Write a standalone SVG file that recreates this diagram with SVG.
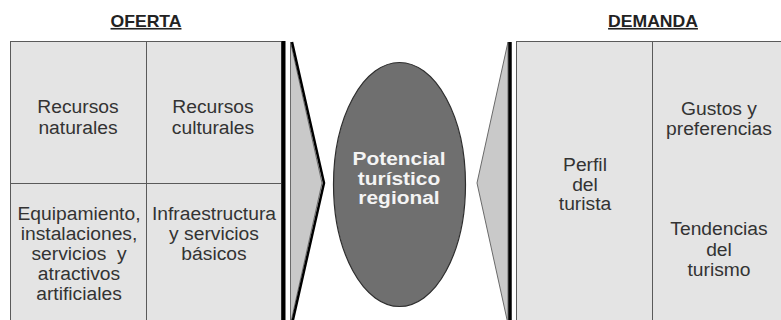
<svg xmlns="http://www.w3.org/2000/svg" width="781" height="320" viewBox="0 0 781 320">
<style>
.bg{fill:#ffffff}
.box{fill:#e4e4e4;stroke:#5a5a5a;stroke-width:1}
.div{stroke:#5a5a5a;stroke-width:1;fill:none}
.shadow{stroke:#000;fill:none}
.chev{fill:#c9c9c9;stroke:#6a6a6a;stroke-width:1}
.t{font-family:"Liberation Sans",Arial,sans-serif;font-size:18px;fill:#333;text-anchor:middle}
.title{font-family:"Liberation Sans",Arial,sans-serif;font-size:16px;font-weight:bold;fill:#222;text-anchor:middle;text-decoration:underline}
.w{font-family:"Liberation Sans",Arial,sans-serif;font-size:19px;font-weight:bold;fill:#f4f4f4;text-anchor:middle}
</style>
<rect class="bg" x="0" y="0" width="781" height="320"/>

<g id="titulo-oferta" transform="translate(146,0) scale(1.1,1)">
  <text class="title" x="0" y="27">OFERTA</text>
</g>
<g id="titulo-demanda" transform="translate(653,0) scale(1.1,1)">
  <text class="title" x="0" y="27">DEMANDA</text>
</g>

<g id="oferta-marco">
  <rect class="box" x="10.5" y="41.5" width="271" height="290"/>
  <line class="div" x1="146.5" y1="41.5" x2="146.5" y2="320"/>
  <line class="div" x1="10.5" y1="183.5" x2="281.5" y2="183.5"/>
  <line class="shadow" x1="283.5" y1="41" x2="283.5" y2="320" stroke-width="4"/>
</g>

<g id="recursos-naturales" transform="translate(78,0) scale(1.07,1)">
  <text class="t" x="0" y="113">Recursos</text>
  <text class="t" x="0" y="134">naturales</text>
</g>
<g id="recursos-culturales" transform="translate(213,0) scale(1.07,1)">
  <text class="t" x="0" y="113">Recursos</text>
  <text class="t" x="0" y="134">culturales</text>
</g>
<g id="equipamiento" transform="translate(79,0) scale(1.07,1)">
  <text class="t" x="0" y="220">Equipamiento,</text>
  <text class="t" x="0" y="240">instalaciones,</text>
  <text class="t" x="0" y="260" xml:space="preserve">servicios  y</text>
  <text class="t" x="0" y="280">atractivos</text>
  <text class="t" x="0" y="300">artificiales</text>
</g>
<g id="infraestructura" transform="translate(214,0) scale(1.07,1)">
  <text class="t" x="0" y="220">Infraestructura</text>
  <text class="t" x="0" y="240">y servicios</text>
  <text class="t" x="0" y="260">básicos</text>
</g>

<g id="connectors">
  <g id="flecha-oferta">
    <polygon class="chev" points="290.5,42 322,183 290.5,324"/>
    <polyline class="shadow" points="292,42 324,183 292,324" stroke-width="2.5" stroke-linejoin="miter"/>
  </g>
  <g id="flecha-demanda">
    <polygon class="chev" points="508,42 477,183 508,324"/>
    <line class="shadow" x1="510" y1="42" x2="510" y2="320" stroke-width="3.5"/>
  </g>
</g>

<g id="potencial">
  <ellipse cx="399.5" cy="184.5" rx="66" ry="122" fill="#6f6f6f" stroke="#2e2e2e" stroke-width="1.2"/>
  <g transform="translate(399,0) scale(1.1,1)">
    <text class="w" x="0" y="165">Potencial</text>
    <text class="w" x="0" y="185">turístico</text>
    <text class="w" x="0" y="204">regional</text>
  </g>
</g>

<g id="demanda-marco">
  <rect class="box" x="516.5" y="41.5" width="280" height="290"/>
  <line class="div" x1="652.5" y1="41.5" x2="652.5" y2="320"/>
</g>

<g id="perfil" transform="translate(585,0) scale(1.07,1)">
  <text class="t" x="0" y="171">Perfil</text>
  <text class="t" x="0" y="191">del</text>
  <text class="t" x="0" y="210">turista</text>
</g>
<g id="gustos" transform="translate(719,0) scale(1.07,1)">
  <text class="t" x="0" y="115">Gustos y</text>
  <text class="t" x="0" y="135">preferencias</text>
</g>
<g id="tendencias" transform="translate(719,0) scale(1.07,1)">
  <text class="t" x="0" y="235">Tendencias</text>
  <text class="t" x="0" y="256">del</text>
  <text class="t" x="0" y="276">turismo</text>
</g>
</svg>
